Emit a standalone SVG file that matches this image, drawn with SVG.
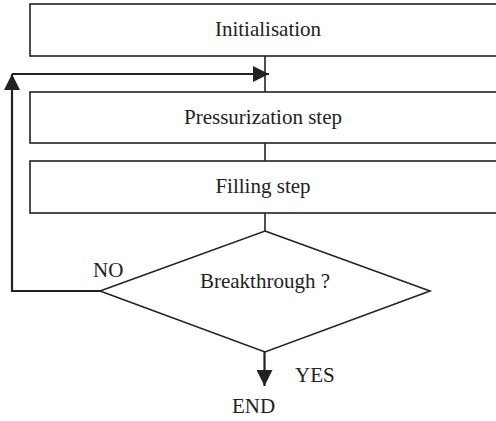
<svg xmlns="http://www.w3.org/2000/svg" width="496" height="421" viewBox="0 0 496 421">
<style>
.box{fill:#fff;stroke:#222;stroke-width:1.6}
.ln{fill:none;stroke:#222;stroke-width:1.6}
.fb{fill:none;stroke:#222;stroke-width:2.2}
.t{font-family:"Liberation Serif","Times New Roman",serif;font-size:21px;fill:#222}
.c{text-anchor:middle}
</style>
<defs>
<marker id="ah" viewBox="0 0 16 16" refX="16" refY="8" markerWidth="16" markerHeight="16" markerUnits="userSpaceOnUse" orient="auto">
<path d="M0,0 L16,8 L0,16 Z" fill="#222"/>
</marker>
</defs>
<rect width="496" height="421" fill="#fff"/>
<g id="connectors">
<line class="ln" x1="265" y1="56" x2="265" y2="92"/>
<line class="ln" x1="265" y1="143" x2="265" y2="161"/>
<line class="ln" x1="265" y1="213" x2="265" y2="231"/>
<line class="fb" x1="264.5" y1="352" x2="264.5" y2="386" marker-end="url(#ah)"/>
<polyline class="fb" points="100,291 12,291 12,74" marker-end="url(#ah)"/>
<line class="fb" x1="12" y1="74" x2="269" y2="74" marker-end="url(#ah)"/>
</g>
<g id="init">
<rect class="box" x="30" y="4" width="480" height="52"/>
<text class="t c" x="268" y="36">Initialisation</text>
</g>
<g id="pressurization">
<rect class="box" x="30" y="92" width="480" height="51"/>
<text class="t c" x="263" y="124">Pressurization step</text>
</g>
<g id="filling">
<rect class="box" x="30" y="161" width="480" height="52"/>
<text class="t c" x="263" y="193">Filling step</text>
</g>
<g id="decision">
<polygon class="box" points="265,231 430,291 265,352 100,291"/>
<text class="t c" x="265" y="288">Breakthrough ?</text>
</g>
<g id="labels">
<text class="t" x="93" y="277">NO</text>
<text class="t" x="295" y="382">YES</text>
<text class="t" x="232" y="413">END</text>
</g>
</svg>
